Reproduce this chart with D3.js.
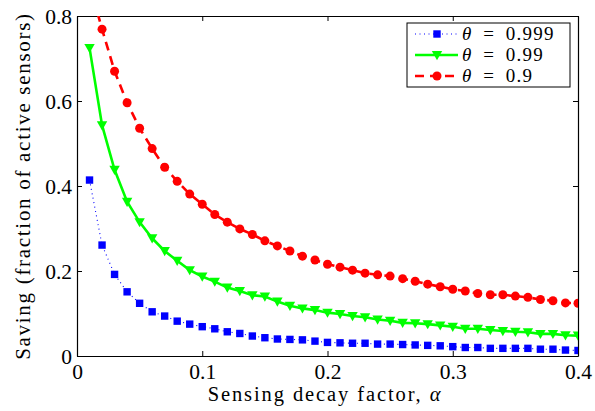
<!DOCTYPE html>
<html><head><meta charset="utf-8">
<script src="https://cdn.jsdelivr.net/npm/d3@7"></script>
<style>body{margin:0;background:#fff}svg{display:block}</style>
</head><body>
<svg id="c" width="595" height="411"></svg>
<script>
const alphas = d3.range(1, 41).map(i => i / 100);
const theta999 = [0.414,0.261,0.192,0.151,0.124,0.104,0.094,0.082,0.075,0.069,0.064,0.057,0.053,0.047,0.043,0.040,0.039,0.038,0.035,0.032,0.031,0.030,0.030,0.028,0.028,0.027,0.026,0.025,0.024,0.022,0.020,0.020,0.018,0.018,0.018,0.018,0.016,0.016,0.014,0.013];
const theta99 = [0.725,0.543,0.438,0.363,0.315,0.277,0.247,0.224,0.202,0.187,0.175,0.161,0.153,0.143,0.140,0.128,0.118,0.112,0.108,0.102,0.099,0.094,0.091,0.086,0.083,0.078,0.077,0.075,0.072,0.069,0.064,0.064,0.061,0.059,0.057,0.056,0.052,0.052,0.049,0.048];
const theta9 = [0.875,0.769,0.670,0.596,0.536,0.488,0.444,0.411,0.381,0.357,0.333,0.315,0.299,0.286,0.271,0.259,0.247,0.235,0.226,0.216,0.209,0.202,0.195,0.191,0.188,0.182,0.176,0.169,0.163,0.157,0.153,0.147,0.144,0.144,0.141,0.138,0.133,0.130,0.125,0.124];
const xTicks = [0, 0.1, 0.2, 0.3, 0.4];
const yTicks = [0, 0.2, 0.4, 0.6, 0.8];
const seriesNames = ["0.999", "0.99", "0.9"];

const svg = d3.select("#c");
const L = 77, R = 578, T = 16, B = 356;
const x = d3.scaleLinear().domain([0, 0.4]).range([L, R]);
const y = d3.scaleLinear().domain([0, 0.8]).range([B, T]);
const font = "'Liberation Serif'";

svg.append("defs").append("clipPath").attr("id","clip")
  .append("rect").attr("x",L).attr("y",T).attr("width",R-L).attr("height",B-T);

const fmt = d => d === 0 ? "0" : d3.format(".1f")(d);
const gx = svg.append("g").attr("transform",`translate(0,${B})`)
  .call(d3.axisBottom(x).tickValues(xTicks).tickFormat(fmt).tickSizeInner(-5).tickSizeOuter(0).tickPadding(8));
const gxt = svg.append("g").attr("transform",`translate(0,${T})`)
  .call(d3.axisTop(x).tickValues(xTicks).tickFormat("").tickSizeInner(-5).tickSizeOuter(0));
const gy = svg.append("g").attr("transform",`translate(${L},0)`)
  .call(d3.axisLeft(y).tickValues(yTicks).tickFormat(fmt).tickSizeInner(-5).tickSizeOuter(0).tickPadding(5));
const gyr = svg.append("g").attr("transform",`translate(${R},0)`)
  .call(d3.axisRight(y).tickValues(yTicks).tickFormat("").tickSizeInner(-5).tickSizeOuter(0));
[gx,gxt,gy,gyr].forEach(g=>{
  g.attr("font-family", null).attr("font-size", null);
  g.selectAll("path.domain").attr("stroke","#000").attr("stroke-width",1.2);
  g.selectAll(".tick line").attr("stroke","#000").attr("stroke-width",1);
  g.selectAll("text").style("font-family",font).style("font-size","21.5px").attr("fill","#000");
});
gy.selectAll("text").attr("dy","0.33em");

const series = [
  {vals: theta999, color:"#0000ff", width:1.1, dash:"1,3.5", marker:"square"},
  {vals: theta99, color:"#00ff00", width:2.6, dash:null, marker:"tri"},
  {vals: theta9, color:"#ff0000", width:2.6, dash:"9,6", marker:"circle"}
];
const plot = svg.append("g").attr("clip-path","url(#clip)");
const line = d3.line().x((d,i)=>x(alphas[i])).y(d=>y(d));
function drawMarker(g, type, cx, cy, color){
  if(type==="square") g.append("rect").attr("x",cx-3.7).attr("y",cy-3.7).attr("width",7.4).attr("height",7.4).attr("fill",color);
  else if(type==="circle") g.append("circle").attr("cx",cx).attr("cy",cy).attr("r",4.5).attr("fill",color);
  else g.append("path").attr("d",`M${cx-5.2},${cy-4}L${cx+5.2},${cy-4}L${cx},${cy+5.2}Z`).attr("fill",color);
}
series.forEach(s=>{
  plot.append("path").attr("d",line(s.vals)).attr("fill","none").attr("stroke",s.color)
    .attr("stroke-width",s.width).attr("stroke-dasharray",s.dash);
  s.vals.forEach((v,i)=>drawMarker(plot,s.marker,x(alphas[i]),y(v),s.color));
});

// legend
const lg = svg.append("g");
const lx = 407, ly = 23, lw = 163, lh = 64;
lg.append("rect").attr("x",lx).attr("y",ly).attr("width",lw).attr("height",lh).attr("fill","#fff").attr("stroke","#000").attr("stroke-width",1);
series.forEach((s,i)=>{
  const yy = ly + 11 + i*21;
  lg.append("line").attr("x1",lx+8).attr("x2",lx+51).attr("y1",yy).attr("y2",yy)
    .attr("stroke",s.color).attr("stroke-width",s.width).attr("stroke-dasharray",s.dash);
  drawMarker(lg,s.marker,lx+30,yy,s.color);
  const t = lg.append("text").attr("x",lx+55).attr("y",yy).attr("dy","0.33em")
    .style("font-family",font).style("font-size","19px").style("letter-spacing","1.2px").attr("fill","#000");
  t.append("tspan").attr("font-style","italic").text("θ");
  t.append("tspan").text("\u2002=\u2002" + seriesNames[i]);
});

// axis titles
svg.append("text").attr("x",325).attr("y",401).attr("text-anchor","middle")
  .style("font-family",font).style("font-size","20.5px").style("letter-spacing","1.9px")
  .html("Sensing decay factor, <tspan font-style='italic'>α</tspan>");
svg.append("text").attr("transform",`translate(30,${(T+B)/2}) rotate(-90)`).attr("text-anchor","middle")
  .style("font-family",font).style("font-size","21px").style("letter-spacing","1.7px")
  .text("Saving (fraction of active sensors)");
</script>
</body></html>
